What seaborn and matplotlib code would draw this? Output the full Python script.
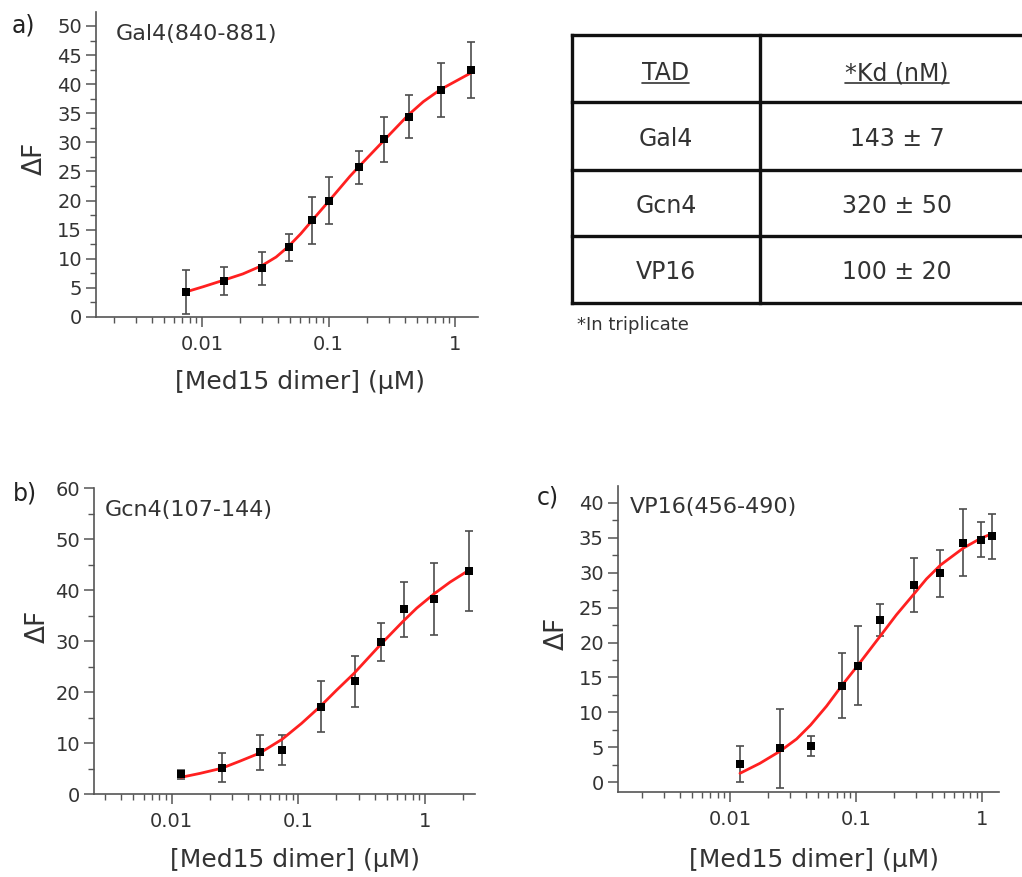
import numpy as np
import pandas as pd
import matplotlib
matplotlib.use("Agg")
import matplotlib.pyplot as plt
import seaborn as sns
from matplotlib.ticker import FixedLocator, MultipleLocator, LogLocator, NullFormatter, FixedFormatter
from matplotlib.lines import Line2D

# ---------------- data ----------------
# Panel a: Gal4(840-881)
gal4_conc = [0.0075, 0.015, 0.030, 0.049, 0.074, 0.100, 0.175, 0.277, 0.430, 0.770, 1.34]
gal4_dF = [4.3, 6.2, 8.4, 12.0, 16.6, 20.0, 25.7, 30.5, 34.4, 39.0, 42.4]
gal4_err = [3.8, 2.4, 2.85, 2.3, 4.0, 4.0, 2.8, 3.9, 3.7, 4.7, 4.8]
gal4_fit_conc = [0.00743, 0.0102, 0.0147, 0.021, 0.0296, 0.0385, 0.0481, 0.0603, 0.0736,
                 0.1014, 0.148, 0.175, 0.276, 0.427, 0.562, 0.770, 1.38]
gal4_fit_dF = [4.3, 5.2, 6.3, 7.4, 8.8, 10.3, 12.1, 14.3, 16.5,
               20.0, 24.2, 25.9, 30.4, 34.7, 37.0, 39.1, 42.1]

# Panel b: Gcn4(107-144)
gcn4_conc = [0.0119, 0.0248, 0.0497, 0.075, 0.150, 0.278, 0.452, 0.680, 1.18, 2.24]
gcn4_dF = [3.9, 5.2, 8.2, 8.7, 17.2, 22.2, 29.9, 36.3, 38.3, 43.8]
gcn4_err = [0.85, 2.85, 3.4, 3.0, 5.0, 5.0, 3.75, 5.4, 7.1, 7.9]
gcn4_fit_conc = [0.01185, 0.01675, 0.0248, 0.0346, 0.0498, 0.0746, 0.106, 0.150, 0.200,
                 0.275, 0.455, 0.670, 0.859, 1.178, 1.575, 2.24]
gcn4_fit_dF = [3.33, 4.1, 5.1, 6.5, 8.1, 10.8, 13.9, 17.3, 20.4,
               23.7, 29.6, 33.9, 36.5, 39.3, 41.6, 44.0]

# Panel c: VP16(456-490)
vp16_conc = [0.0121, 0.0249, 0.0436, 0.0766, 0.103, 0.153, 0.287, 0.462, 0.700, 0.970, 1.19]
vp16_dF = [2.58, 4.87, 5.2, 13.84, 16.7, 23.2, 28.2, 29.9, 34.3, 34.7, 35.2]
vp16_err = [2.6, 5.65, 1.45, 4.6, 5.65, 2.25, 3.85, 3.4, 4.8, 2.5, 3.2]
vp16_fit_conc = [0.0120, 0.01726, 0.0249, 0.0337, 0.0435, 0.0582, 0.0766, 0.1037, 0.154,
                 0.208, 0.290, 0.360, 0.466, 0.703, 0.975, 1.186]
vp16_fit_dF = [1.29, 2.72, 4.45, 6.2, 8.2, 10.9, 13.8, 16.8, 20.86,
               23.96, 27.06, 29.1, 31.1, 33.5, 34.94, 35.56]

x_ticks = [0.01, 0.1, 1]
x_tick_labels = ["0.01", "0.1", "1"]

table_header = ["TAD", "*Kd (nM)"]
table_tad = ["Gal4", "Gcn4", "VP16"]
table_kd = ["143 \u00b1 7", "320 \u00b1 50", "100 \u00b1 20"]
table_note = "*In triplicate"

# ---------------- style ----------------
sns.set_theme(style="ticks")
plt.rcParams['font.family'] = ['DejaVu Sans']
TXT = '#333333'
AX = '#555555'

W, H = 1022, 877
fig = plt.figure(figsize=(W / 100, H / 100), dpi=100)
fig.patch.set_facecolor('white')


def fx(x):
    return x / W


def fy(y):
    return 1 - y / H


def add_ax(l, t, r, b):
    return fig.add_axes([fx(l), fy(b), (r - l) / W, (b - t) / H])


def draw_panel(ax, conc, dF, err, fit_x, fit_y, xlim, ylim, ymaj, ymin,
               xlab_pos, ylab_pos):
    ax.set_xscale('log')
    ax.set_facecolor('white')
    ax.errorbar(conc, dF, yerr=err, fmt='none', ecolor='#4d4d4d', elinewidth=1.2,
                capsize=3, capthick=1.2, zorder=2)
    sns.lineplot(x=fit_x, y=fit_y, ax=ax, color='#ff2020', linewidth=2.0,
                 sort=False, estimator=None, zorder=3)
    sns.scatterplot(x=conc, y=dF, ax=ax, marker='s', s=26, color='black',
                    edgecolor='black', linewidth=0, zorder=4)
    ax.set_xlim(*xlim)
    ax.set_ylim(*ylim)
    ax.xaxis.set_major_locator(FixedLocator(x_ticks))
    ax.xaxis.set_major_formatter(FixedFormatter(x_tick_labels))
    ax.xaxis.set_minor_locator(LogLocator(base=10, subs=np.arange(2, 10)))
    ax.xaxis.set_minor_formatter(NullFormatter())
    ax.yaxis.set_major_locator(MultipleLocator(ymaj))
    ax.yaxis.set_minor_locator(MultipleLocator(ymin))
    for s in ['top', 'right']:
        ax.spines[s].set_visible(False)
    for s in ['left', 'bottom']:
        ax.spines[s].set_color(AX)
        ax.spines[s].set_linewidth(1.2)
    ax.tick_params(which='major', direction='out', length=7, width=1.1,
                   color=AX, labelcolor=TXT, labelsize=14)
    ax.tick_params(which='minor', direction='out', length=4, width=1.0, color=AX)
    ax.tick_params(axis='y', which='major', pad=3)
    ax.tick_params(axis='x', which='major', pad=6)
    ax.set_xlabel("[Med15 dimer] (\u00b5M)", fontsize=18, color=TXT, va='center', ha='center')
    ax.set_ylabel("\u0394F", fontsize=19, color=TXT, va='center', ha='center')
    ax.xaxis.set_label_coords(*xlab_pos)
    ax.yaxis.set_label_coords(*ylab_pos)
    ax.grid(False)


ax_a = add_ax(96, 12, 478, 317)
draw_panel(ax_a, gal4_conc, gal4_dF, gal4_err, gal4_fit_conc, gal4_fit_dF,
           (0.00145, 1.52), (0, 52.4), 5, 2.5, (0.534, -0.213), (-0.160, 0.520))

ax_b = add_ax(94, 488.3, 475, 794.3)
draw_panel(ax_b, gcn4_conc, gcn4_dF, gcn4_err, gcn4_fit_conc, gcn4_fit_dF,
           (0.00244, 2.48), (0, 60), 10, 5, (0.528, -0.215), (-0.147, 0.548))

ax_c = add_ax(617.7, 486, 999.3, 791.7)
draw_panel(ax_c, vp16_conc, vp16_dF, vp16_err, vp16_fit_conc, vp16_fit_dF,
           (0.00129, 1.36), (-1.34, 42.4), 5, 2.5, (0.514, -0.225), (-0.160, 0.519))

# panel labels and titles
for lab, x, y in [("a)", 12, 33), ("b)", 13, 500), ("c)", 537, 505)]:
    fig.text(fx(x), fy(y), lab, fontsize=17, color='#222222', va='baseline', ha='left')
for t, x, y in [("Gal4(840-881)", 116, 40), ("Gcn4(107-144)", 105, 516),
                ("VP16(456-490)", 630, 513)]:
    fig.text(fx(x), fy(y), t, fontsize=16, color=TXT, va='baseline', ha='left')

# ---------------- table ----------------
tl, tt, tr, tb = 571.7, 35, 1034, 303
col_split = 760
row_edges = [35, 101.7, 170, 236, 303]
lw = 2.4
for y in row_edges:
    fig.add_artist(Line2D([fx(tl), fx(tr)], [fy(y), fy(y)], transform=fig.transFigure,
                          color='#111111', linewidth=lw, solid_capstyle='projecting'))
for x in [tl, col_split, tr]:
    fig.add_artist(Line2D([fx(x), fx(x)], [fy(tt), fy(tb)], transform=fig.transFigure,
                          color='#111111', linewidth=lw, solid_capstyle='projecting'))

c1 = (tl + col_split) / 2
c2 = (col_split + tr) / 2
header_base = 80
hdr_texts = []
for txt, cx in zip(table_header, [c1, c2]):
    hdr_texts.append(fig.text(fx(cx), fy(header_base), txt, fontsize=17, color=TXT,
                              ha='center', va='baseline'))
baselines = [146, 213, 279]
for tad, kd, yb in zip(table_tad, table_kd, baselines):
    fig.text(fx(c1), fy(yb), tad, fontsize=17, color=TXT, ha='center', va='baseline')
    fig.text(fx(c2), fy(yb), kd, fontsize=17, color=TXT, ha='center', va='baseline')
fig.text(fx(577), fy(330), table_note, fontsize=13, color=TXT, ha='left', va='baseline')

# underline headers
fig.canvas.draw()
renderer = fig.canvas.get_renderer()
for t in hdr_texts:
    bb = t.get_window_extent(renderer)
    yline = fy(header_base + 2.5)
    fig.add_artist(Line2D([bb.x0 / W, bb.x1 / W], [yline, yline], transform=fig.transFigure,
                          color=TXT, linewidth=1.2))

fig.savefig("out.png", dpi=100, facecolor='white')
